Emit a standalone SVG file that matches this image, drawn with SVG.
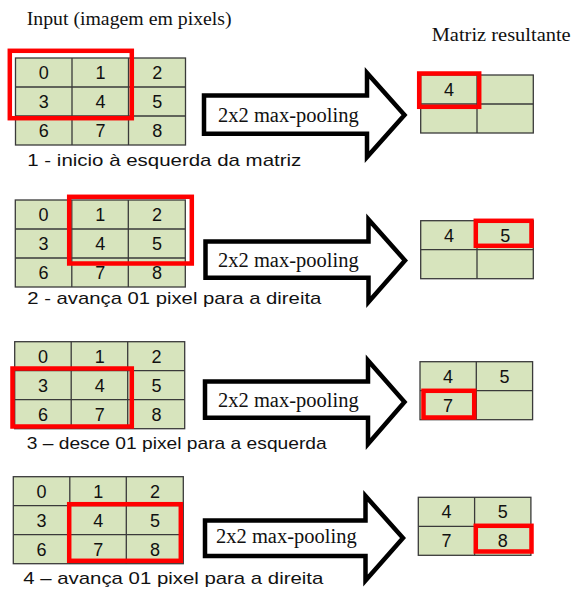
<svg xmlns="http://www.w3.org/2000/svg" width="574" height="592" viewBox="0 0 574 592">
<defs>
<style>
.bg{fill:#ffffff}
.cell{fill:#D7E4BD;stroke:#3a3a3a;stroke-width:1.3}
.gl{stroke:#3a3a3a;stroke-width:1.3;fill:none}
.num{font-family:"Liberation Sans",Arial,sans-serif;font-size:18px;fill:#111;text-anchor:middle}
.sel{fill:none;stroke:#FF0000;stroke-width:4.5}
.arrow{fill:#ffffff;stroke:#000000;stroke-width:4.5;stroke-linejoin:miter}
.serif{font-family:"Liberation Serif","Times New Roman",serif;fill:#111}
.cap{font-family:"Liberation Sans",Arial,sans-serif;font-size:17px;fill:#111}
</style>
<g id="grid3">
<rect class="cell" x="0" y="0" width="170" height="87"/>
<path class="gl" d="M56.5 0V87M113 0V87M0 29H170M0 58H170"/>
<text class="num" x="28.3" y="21">0</text>
<text class="num" x="85" y="21">1</text>
<text class="num" x="141.7" y="21">2</text>
<text class="num" x="28.3" y="50">3</text>
<text class="num" x="85" y="50">4</text>
<text class="num" x="141.7" y="50">5</text>
<text class="num" x="28.3" y="79">6</text>
<text class="num" x="85" y="79">7</text>
<text class="num" x="141.7" y="79">8</text>
</g>
<g id="grid2">
<rect class="cell" x="0" y="0" width="112.6" height="58"/>
<path class="gl" d="M56.3 0V58M0 29H112.6"/>
</g>
</defs>
<rect class="bg" x="0" y="0" width="574" height="592"/>

<g id="title">
<text class="serif" x="26.7" y="25" font-size="19.8">Input (imagem em pixels)</text>
</g>
<g id="title-output">
<text class="serif" x="431.7" y="40.7" font-size="19.8" textLength="139" lengthAdjust="spacingAndGlyphs">Matriz resultante</text>
</g>

<!-- Step 1 -->
<g id="input1">
<use href="#grid3" x="15.5" y="58"/>
<rect class="sel" x="9.8" y="50.8" width="122" height="67.4"/>
<text class="cap" x="27.3" y="166" textLength="274" lengthAdjust="spacingAndGlyphs">1 - inicio à esquerda da matriz</text>
</g>
<g id="arrow1">
<polygon class="arrow" points="204,95.6 367,95.6 367,73 404.5,115 367,157 367,133.7 204,133.7"/>
<text class="serif" x="218" y="121.7" font-size="20.5">2x2 max-pooling</text>
</g>
<g id="output1">
<use href="#grid2" x="420.7" y="75"/>
<text class="num" x="449" y="96">4</text>
<rect class="sel" x="419.2" y="73.5" width="60" height="33.3"/>
</g>

<!-- Step 2 -->
<g id="input2">
<use href="#grid3" x="15.3" y="200"/>
<rect class="sel" x="69.2" y="196.8" width="122.6" height="66.7"/>
<text class="cap" x="27.3" y="304" textLength="294" lengthAdjust="spacingAndGlyphs">2 - avança 01 pixel para a direita</text>
</g>
<g id="arrow2">
<polygon class="arrow" points="205.5,241.5 368.5,241.5 368.5,219.5 405,260.5 368.5,302 368.5,277.8 205.5,277.8"/>
<text class="serif" x="218" y="266.7" font-size="20.5">2x2 max-pooling</text>
</g>
<g id="output2">
<use href="#grid2" x="420.7" y="220.7"/>
<text class="num" x="449" y="241.5">4</text>
<text class="num" x="505.3" y="241.5">5</text>
<rect class="sel" x="475.8" y="220.8" width="55.7" height="25"/>
</g>

<!-- Step 3 -->
<g id="input3">
<use href="#grid3" x="14.7" y="341.7"/>
<rect class="sel" x="12.5" y="368.5" width="119.3" height="58"/>
<text class="cap" x="26.7" y="449" textLength="300" lengthAdjust="spacingAndGlyphs">3 – desce 01 pixel para a esquerda</text>
</g>
<g id="arrow3">
<polygon class="arrow" points="205,381.5 368,381.5 368,360.5 404.5,402 368,444 368,417.8 205,417.8"/>
<text class="serif" x="218" y="406.7" font-size="20.5">2x2 max-pooling</text>
</g>
<g id="output3">
<use href="#grid2" x="420" y="361.7"/>
<text class="num" x="448" y="382.5">4</text>
<text class="num" x="504.5" y="382.5">5</text>
<text class="num" x="448" y="411.5">7</text>
<rect class="sel" x="423.5" y="390.8" width="50.7" height="26.7"/>
</g>

<!-- Step 4 -->
<g id="input4">
<use href="#grid3" x="13.3" y="476.7"/>
<rect class="sel" x="69.2" y="504.2" width="111.6" height="56.6"/>
<text class="cap" x="23.3" y="584" textLength="300" lengthAdjust="spacingAndGlyphs">4 – avança 01 pixel para a direita</text>
</g>
<g id="arrow4">
<polygon class="arrow" points="205,520.5 365.5,520.5 365.5,496 403,538 365.5,580.5 365.5,556 205,556"/>
<text class="serif" x="216" y="543.3" font-size="20.5">2x2 max-pooling</text>
</g>
<g id="output4">
<use href="#grid2" x="418.3" y="497.3"/>
<text class="num" x="446.5" y="518">4</text>
<text class="num" x="502.8" y="518">5</text>
<text class="num" x="446.5" y="547">7</text>
<text class="num" x="502.8" y="547">8</text>
<rect class="sel" x="475.8" y="525.8" width="55.7" height="25.7"/>
</g>

<g id="connectors"></g>
</svg>
